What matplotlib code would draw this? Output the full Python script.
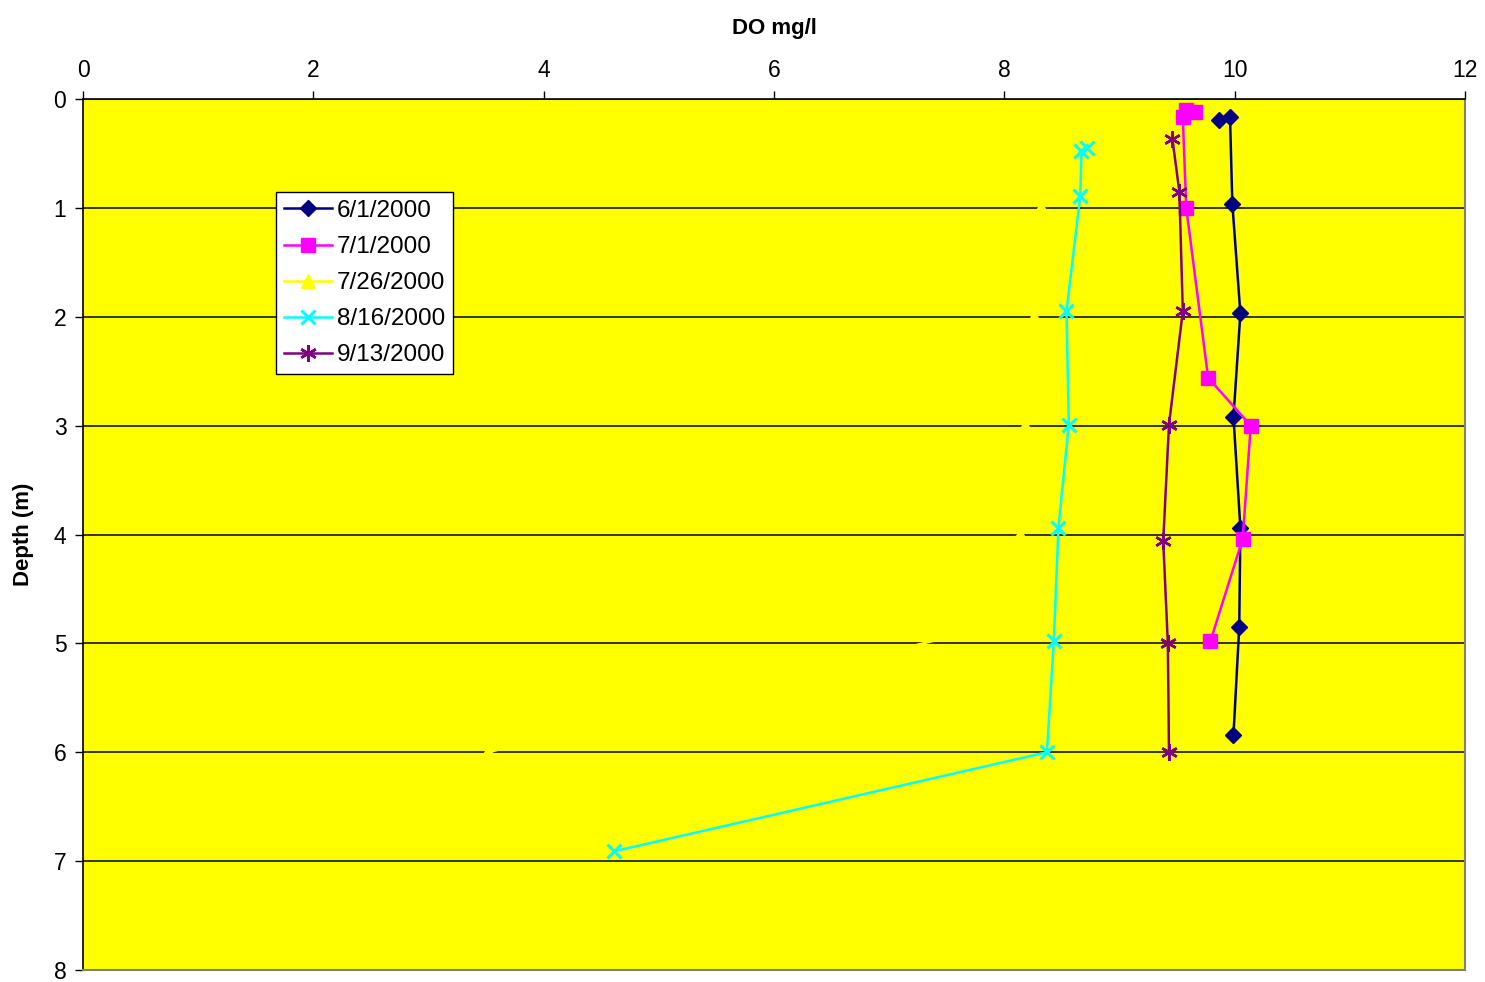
import matplotlib
matplotlib.use("Agg")
import matplotlib.pyplot as plt

plt.rcParams['font.family'] = ['Liberation Sans', 'DejaVu Sans']

# Dissolved oxygen profiles (mg/l) versus depth (m)
do_0601 = [9.86, 9.96, 9.98, 10.05, 9.99, 10.05, 10.04, 9.99]
depth_0601 = [0.19, 0.17, 0.96, 1.97, 2.92, 3.94, 4.85, 5.84]

do_0701 = [9.58, 9.66, 9.55, 9.58, 9.77, 10.14, 10.07, 9.79]
depth_0701 = [0.10, 0.12, 0.17, 1.00, 2.56, 3.00, 4.04, 4.98]

do_0726 = [8.33, 8.32, 8.26, 8.18, 8.14, 8.05, 3.52]
depth_0726 = [0.50, 1.00, 2.00, 3.00, 4.00, 4.80, 6.00]

do_0816 = [8.72, 8.67, 8.66, 8.54, 8.56, 8.47, 8.43, 8.37, 4.61]
depth_0816 = [0.45, 0.48, 0.89, 1.95, 2.99, 3.94, 4.98, 6.00, 6.91]

do_0913 = [9.46, 9.52, 9.55, 9.43, 9.38, 9.42, 9.43]
depth_0913 = [0.37, 0.85, 1.95, 2.99, 4.06, 5.00, 6.00]

series_labels = ['6/1/2000', '7/1/2000', '7/26/2000', '8/16/2000', '9/13/2000']

fig = plt.figure(figsize=(14.85, 9.82), dpi=100)
ax = fig.add_axes([0.0559, 0.0122, 0.9306, 0.8870])
ax.set_facecolor('#FFFF00')

ax.set_xlim(0, 12)
ax.set_ylim(8, 0)
ax.set_xticks(range(0, 13, 2))
ax.set_yticks(range(0, 9))
ax.xaxis.tick_top()
ax.xaxis.set_label_position('top')
ax.tick_params(axis='both', labelsize=16.5, direction='out', length=6, width=1, colors='black')
ax.tick_params(axis='x', pad=6)
ax.tick_params(axis='y', pad=6)
ax.set_xlabel('DO mg/l', fontsize=16, fontweight='bold', labelpad=18)
ax.set_ylabel('Depth (m)', fontsize=16, fontweight='bold', labelpad=14)

ax.yaxis.grid(True, color='black', linewidth=1.1, zorder=1)
ax.set_axisbelow(True)

for side in ('top', 'left'):
    ax.spines[side].set_color('black')
    ax.spines[side].set_linewidth(1.2)
for side in ('bottom', 'right'):
    ax.spines[side].set_color('#808080')
    ax.spines[side].set_linewidth(1.5)

ax.plot(do_0601, depth_0601, color='#000080', marker='D', markersize=8.5, lw=1.8, zorder=3, label=series_labels[0])
ax.plot(do_0701, depth_0701, color='#FF00FF', marker='s', markersize=10.5, lw=1.8, zorder=3, label=series_labels[1])
ax.plot(do_0726, depth_0726, color='#FFFF00', marker='^', markersize=10, lw=1.8, zorder=3, label=series_labels[2])
ax.plot(do_0816, depth_0816, color='#00FFFF', marker='x', markersize=10, mew=2.2, lw=1.8, zorder=3, label=series_labels[3])
ax.plot(do_0913, depth_0913, color='#800080', marker=(6, 2, 0), markersize=12, mew=1.8, lw=1.8, zorder=3, label=series_labels[4])

leg = ax.legend(loc='upper left', bbox_to_anchor=(0.1395, 0.893), fontsize=17.5,
                frameon=True, fancybox=False, framealpha=1, edgecolor='black',
                borderpad=0.32, labelspacing=0.58, handlelength=2.0, handletextpad=0.2,
                borderaxespad=0)
leg.get_frame().set_linewidth(1.0)

fig.savefig('out.png', dpi=100, facecolor='white')
